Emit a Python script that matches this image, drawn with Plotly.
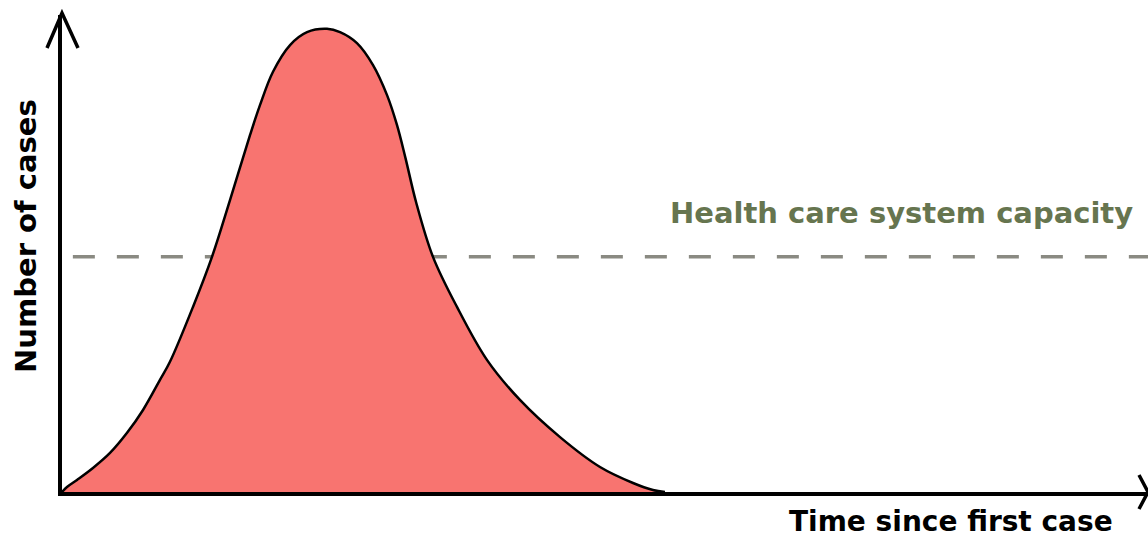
import plotly.graph_objects as go

# Data (time since first case vs number of cases)
time_vals = [0, 0.46, 1.38, 2.85, 4.42, 5.99, 7.46, 9.02, 9.94, 12.06, 13.81, 15.47,
             17.31, 18.23, 19.43, 21.0, 22.56, 24.4, 25.6, 27.16, 28.64, 29.93, 30.85,
             31.63, 32.6, 34.16, 36.37, 39.13, 42.17, 45.86, 49.54, 52.58, 54.42, 55.52]
case_vals = [0, 1.05, 2.52, 5.03, 8.18, 12.4, 17.2, 23.5, 27.3, 38.8, 49.3, 61.2,
             74.8, 81.1, 88.1, 93.7, 96.4, 97.1, 96.4, 94.1, 89.5, 83.2, 76.9,
             70.0, 60.8, 49.3, 38.8, 27.7, 19.3, 11.5, 5.24, 1.89, 0.42, 0]
capacity_x = [1.0, 100]
capacity_y = [49.3, 49.3]

x_title = "Time since first case"
y_title = "Number of cases"
capacity_label = "Health care system capacity"

FONT = "DejaVu Sans"

fig = go.Figure()

fig.add_trace(go.Scatter(
    x=capacity_x, y=capacity_y, mode="lines",
    line=dict(color="#8a8a82", width=3.5, dash="22px,22px"),
    hoverinfo="skip", showlegend=False))

fig.add_trace(go.Scatter(
    x=time_vals, y=case_vals, mode="lines", fill="tozeroy",
    fillcolor="#F87470",
    line=dict(color="black", width=2.5, shape="spline", smoothing=1.0),
    hoverinfo="skip", showlegend=False))

# arrow heads (pixel offsets relative to axis ends, paper-anchored so not clipped)
fig.add_shape(type="path", xref="paper", yref="paper", xsizemode="pixel", ysizemode="pixel",
              xanchor=0, yanchor=1, path="M -15 -33 L 0 2 L 16 -33",
              line=dict(color="black", width=3.5))
fig.add_shape(type="path", xref="paper", yref="paper", xsizemode="pixel", ysizemode="pixel",
              xanchor=1, yanchor=0, path="M -9 17 L 0 0 L -9 -17",
              line=dict(color="black", width=3.5))

fig.add_annotation(text=y_title, xref="paper", yref="paper", x=-0.0331, y=0.537,
                   xanchor="center", yanchor="middle", textangle=-90, showarrow=False,
                   font=dict(family=FONT, size=29, color="black", weight="bold"))
fig.add_annotation(text=x_title, xref="paper", yref="paper", x=0.9696, y=-0.061,
                   xanchor="right", yanchor="middle", showarrow=False,
                   font=dict(family=FONT, size=28, color="black", weight="bold"))
fig.add_annotation(text=capacity_label, xref="paper", yref="paper", x=0.988, y=0.585,
                   xanchor="right", yanchor="middle", showarrow=False,
                   font=dict(family=FONT, size=29, color="#66754f", weight="bold"))

fig.update_layout(
    width=1148, height=538,
    margin=dict(l=62, r=0, t=15, b=46),
    paper_bgcolor="white", plot_bgcolor="white",
    xaxis=dict(range=[0, 100], showline=True, linecolor="black", linewidth=4,
               showgrid=False, zeroline=False, showticklabels=False, ticks=""),
    yaxis=dict(range=[0, 100], showline=True, linecolor="black", linewidth=3.5,
               showgrid=False, zeroline=False, showticklabels=False, ticks=""),
)

fig.write_html("out.html", config={"displayModeBar": False},
               post_script="document.body.style.margin='0';document.body.style.overflow='hidden';")
